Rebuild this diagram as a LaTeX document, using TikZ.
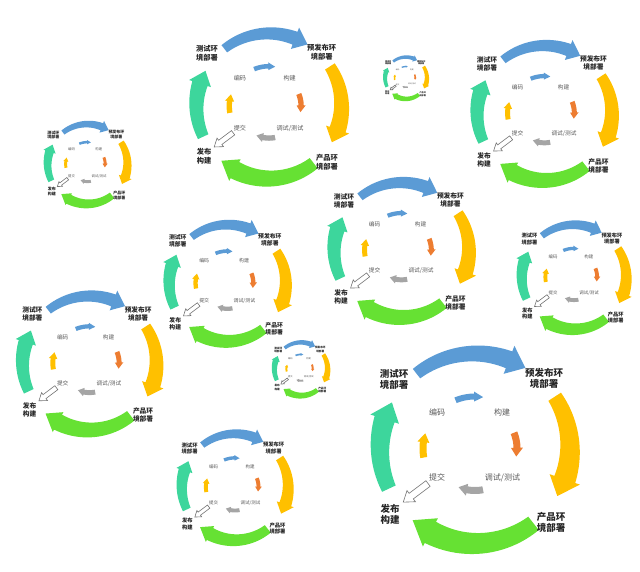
\documentclass[tikz,border=0pt]{standalone}
\usepackage{fontspec}
\newfontfamily\cjk{Noto Sans CJK SC}

\definecolor{cycleteal}{HTML}{3DD69C}
\definecolor{cycleblue}{HTML}{5B9BD5}
\definecolor{cycleyellow}{HTML}{FFC000}
\definecolor{cyclegreen}{HTML}{66E133}
\definecolor{cycleorange}{HTML}{ED7D31}
\definecolor{cyclegray}{HTML}{A5A5A5}

% #1 colour, #2 tail angle, #3 head base angle, #4 tip angle,
% #5 radius, #6 tail width, #7 body width, #8 half head width
\newcommand\bandarrow[8]{%
  \fill[#1] plot[domain=#2:#3,samples=24] (\x:{#5+(#6+(#7-#6)*(\x-(#2))/((#3)-(#2)))/2})
    -- (#3:{#5+#8}) -- (#4:{#5}) -- (#3:{#5-#8})
    -- plot[domain=#3:#2,samples=24] (\x:{#5-(#6+(#7-#6)*(\x-(#2))/((#3)-(#2)))/2}) -- cycle;}

% #1,#2 centre, #3 scale, #4 name prefix
\newcommand\devcycle[4]{%
  \begin{scope}[shift={(#1,#2)},scale=#3,transform shape,name prefix=#4-]
    \bandarrow{cycleteal}{205}{162}{151}{95}{15}{21}{15}
    \bandarrow{cycleblue}{128}{69}{58}{95}{12}{18}{15}
    \bandarrow{cycleyellow}{33}{-19}{-30}{95}{15}{22}{16}
    \bandarrow{cyclegreen}{-52}{-118}{-131}{95}{17}{24}{16}
    \bandarrow{cycleblue}{112}{91}{81}{52}{6}{6}{5}
    \bandarrow{cycleorange}{22}{1}{-11}{42}{7}{7}{6}
    \bandarrow{cyclegray}{-79}{-101}{-113}{42}{7}{7}{6}
    \bandarrow{cycleyellow}{190}{173}{163}{52}{7}{7}{6}
    \begin{scope}[shift={(-47,-35)},rotate=217]
      \draw[hollow] (0,-3.5) -- (21,-3.5) -- (21,-7) -- (31,0)
        -- (21,7) -- (21,3.5) -- (0,3.5) -- cycle;
    \end{scope}
    \node[outer] (test)    at (-81,69)  {测试环\\境部署};
    \node[outer] (preprod) at (69,70)   {预发布环\\境部署};
    \node[outer] (prod)    at (76,-74)  {产品环\\境部署};
    \node[outer] (release) at (-85,-66) {发布\\构建};
    \node[inner] (code)   at (-38,36)   {编码};
    \node[inner] (build)  at (27,36)    {构建};
    \node[inner] (commit) at (-38,-29)  {提交};
    \node[inner] (debug)  at (27.5,-29) {调试/测试};
  \end{scope}}

\begin{document}
\begin{tikzpicture}
      [x=1pt,y=1pt,
      outer/.style={font=\cjk\bfseries\fontsize{9.5}{11.5}\selectfont, text=black!85, align=center, inner sep=0pt},
      inner/.style={font=\cjk\fontsize{8}{9}\selectfont, text=black!65, inner sep=0pt},
      hollow/.style={fill=white, draw=black!55, line width=0.6pt, line join=miter},
      ]
      \useasboundingbox (0,0) rectangle (640,572);
      \devcycle{269}{466}{0.764}{a}
      \devcycle{406}{494}{0.22}{b}
      \devcycle{544.5}{459}{0.71}{c}
      \devcycle{87.5}{408}{0.42}{d}
      \devcycle{401.5}{322}{0.71}{e}
      \devcycle{227.5}{289}{0.614}{f}
      \devcycle{574}{295}{0.55}{g}
      \devcycle{89.5}{209}{0.705}{h}
      \devcycle{301}{203}{0.28}{i}
      \devcycle{235}{85}{0.56}{j}
      \devcycle{475}{123.5}{1}{k}
      \end{tikzpicture}
\end{document}
